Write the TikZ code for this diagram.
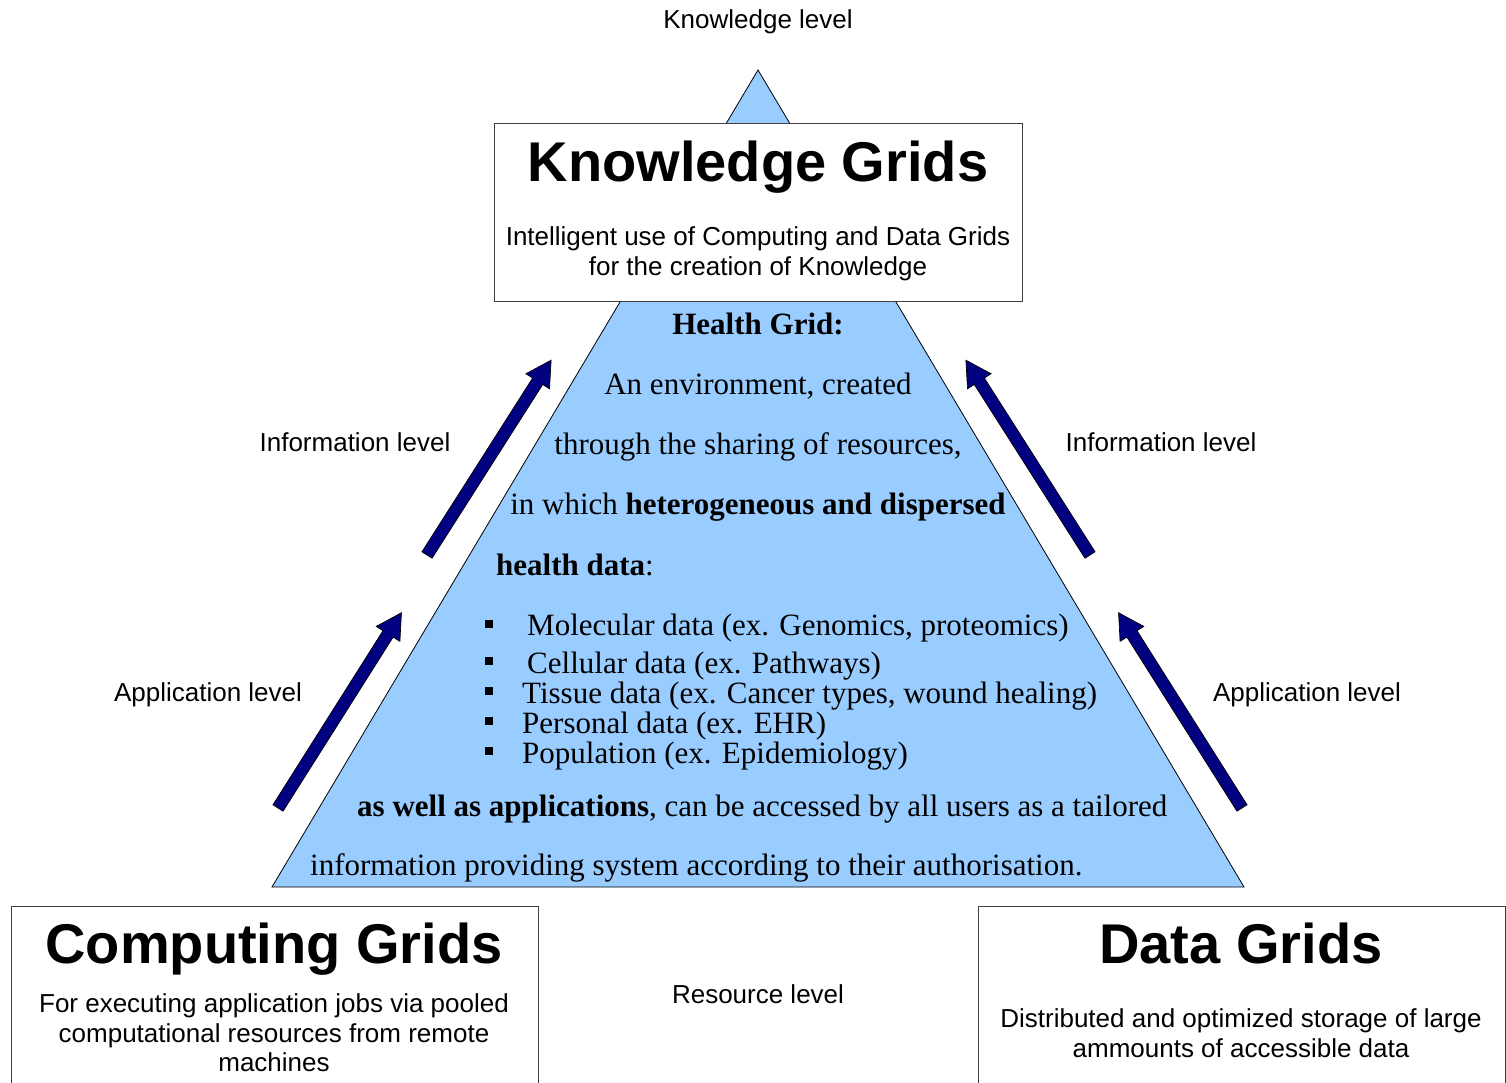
\documentclass[tikz,border=0pt]{standalone}
\usepackage{fontspec}
\setmainfont{Liberation Serif}
\setsansfont{Liberation Sans}
\definecolor{trifill}{HTML}{99CCFF}
\definecolor{navyarrow}{HTML}{000080}
\tikzset{
  blockarrow/.pic={
    \draw[fill=navyarrow, line width=0.7pt, line join=miter]
      (0,-6) -- (206,-6) -- (206,-14) -- (231,0) -- (206,14) -- (206,6) -- (0,6) -- cycle;
  }
}
\begin{document}
\begin{tikzpicture}[x=1pt,y=-1pt,
  lbl/.style={font=\sffamily\fontsize{26}{30}\selectfont, anchor=base, inner sep=0pt},
  ttl/.style={font=\sffamily\bfseries\fontsize{56}{60}\selectfont, anchor=base, inner sep=0pt},
  body/.style={font=\rmfamily\fontsize{31}{36}\selectfont, anchor=base, inner sep=0pt},
  bodyw/.style={body, anchor=base west},
  gridbox/.style={draw=black!75, line width=1pt, fill=white, anchor=north west, inner sep=0pt},
  sq/.style={fill=black, minimum size=8pt, inner sep=0pt}]
\clip (0,0) rectangle (1506,1082);
\fill[white] (0,0) rectangle (1506,1082);

% pyramid
\coordinate (apex) at (758,70);
\coordinate (bl) at (272,887);
\coordinate (br) at (1244,887);
\draw[fill=trifill, line width=0.8pt, line join=miter] (apex) -- (bl) -- (br) -- cycle;

% boxes
\node[gridbox, minimum width=528pt, minimum height=178pt] (kbox) at (494,123) {};
\node[gridbox, minimum width=527pt, minimum height=190pt] (cbox) at (11,906) {};
\node[gridbox, minimum width=527pt, minimum height=190pt] (dbox) at (978,906) {};

% level labels
\node[lbl] (klev) at (758,28) {Knowledge level};
\node[lbl] (ilevl) at (355,451) {Information level};
\node[lbl] (ilevr) at (1161,451) {Information level};
\node[lbl] (alevl) at (208,701) {Application level};
\node[lbl] (alevr) at (1307,701) {Application level};
\node[lbl] (rlev) at (758,1003) {Resource level};

% box texts
\node[ttl] (kt) at (758,181) {Knowledge Grids};
\node[lbl] (ks1) at (758,245) {Intelligent use of Computing and Data Grids};
\node[lbl] (ks2) at (758,275) {for the creation of Knowledge};

\node[ttl] (ct) at (274,963) {Computing Grids};
\node[lbl] (cs1) at (274,1012) {For executing application jobs via pooled};
\node[lbl] (cs2) at (274,1042) {computational resources from remote};
\node[lbl] (cs3) at (274,1071) {machines};

\node[ttl] (dt) at (1241,963) {Data Grids};
\node[lbl] (ds1) at (1241,1027) {Distributed and optimized storage of large};
\node[lbl] (ds2) at (1241,1057) {ammounts of accessible data};

% pyramid text
\node[body] (h1) at (758,334) {\textbf{Health Grid:}};
\node[body] (h2) at (758,394) {An environment, created};
\node[body] (h3) at (758,454) {through the sharing of resources,};
\node[body] (h4) at (758,514) {in which \textbf{heterogeneous and dispersed}};
\node[bodyw] (h5) at (496,575) {\textbf{health data}:};

\node[sq] (b1) at (489,624) {};
\node[sq] (b2) at (489,661) {};
\node[sq] (b3) at (489,691) {};
\node[sq] (b4) at (489,721) {};
\node[sq] (b5) at (489,751) {};
\node[bodyw] (l1) at (527,635) {Molecular data (ex. Genomics, proteomics)};
\node[bodyw] (l2) at (527,673) {Cellular data (ex. Pathways)};
\node[bodyw] (l3) at (522,703) {Tissue data (ex. Cancer types, wound healing)};
\node[bodyw] (l4) at (522,733) {Personal data (ex. EHR)};
\node[bodyw] (l5) at (522,763) {Population (ex. Epidemiology)};

\node[bodyw] (h6) at (357,816) {\textbf{as well as applications}, can be accessed by all users as a tailored};
\node[bodyw] (h7) at (310,875) {information providing system according to their authorisation.};

% arrows
\coordinate (a1tail) at (278,808);
\coordinate (a2tail) at (427,555);
\coordinate (a3tail) at (1090,555);
\coordinate (a4tail) at (1242,808);
\pic[rotate=57.7] (arrowll) at (a1tail) {blockarrow};
\pic[rotate=57.5] (arrowlu) at (a2tail) {blockarrow};
\pic[rotate=122.5] (arrowru) at (a3tail) {blockarrow};
\pic[rotate=122.3] (arrowrl) at (a4tail) {blockarrow};
\end{tikzpicture}
\end{document}
